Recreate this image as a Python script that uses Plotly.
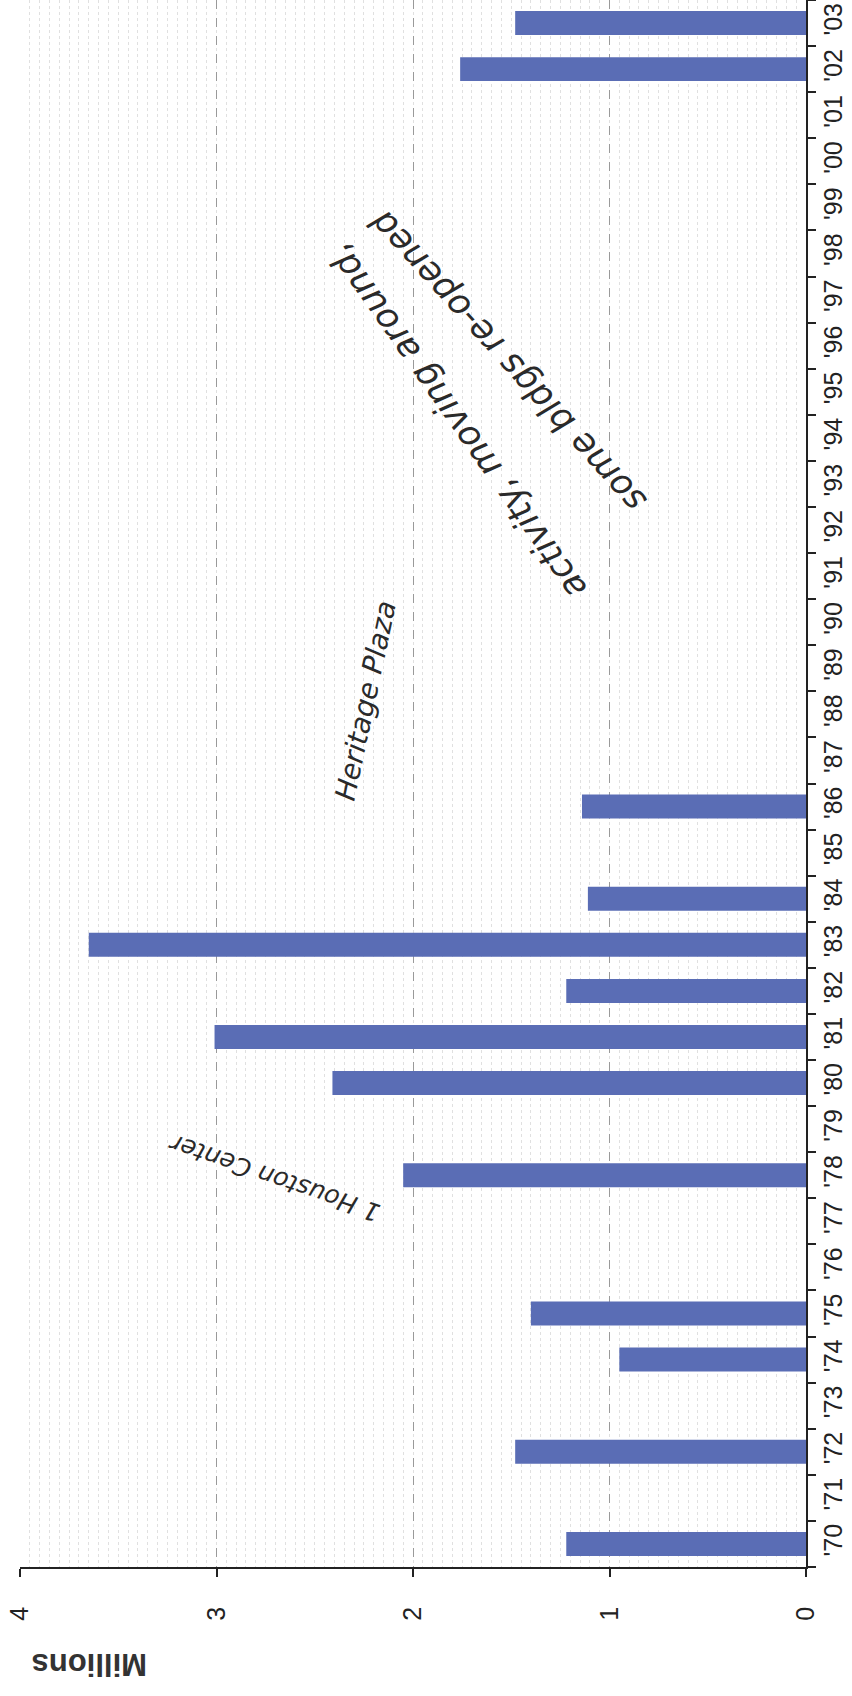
import plotly.graph_objects as go

# Years on the category axis ('70 .. '03)
years = ["'70", "'71", "'72", "'73", "'74", "'75", "'76", "'77", "'78", "'79",
         "'80", "'81", "'82", "'83", "'84", "'85", "'86", "'87", "'88", "'89",
         "'90", "'91", "'92", "'93", "'94", "'95", "'96", "'97", "'98", "'99",
         "'00", "'01", "'02", "'03"]

# Millions per year (None = no bar that year)
millions = [1.22, None, 1.48, None, 0.95, 1.40, None, None, 2.05, None,
            2.41, 3.01, 1.22, 3.65, 1.11, None, 1.14, None, None, None,
            None, None, None, None, None, None, None, None, None, None,
            None, None, 1.76, 1.48]

value_ticks = [0, 1, 2, 3, 4]

# Handwritten notes: text, value position, year-index position, angle, size
notes = [
    ("1 Houston Center", 2.71, 7.95, -161, 25),
    ("Heritage Plaza", 2.24, 18.3, -78, 28),
    ("activity, moving around,", 1.78, 24.35, -125, 35),
    ("some bldgs re-opened", 1.52, 25.65, -132, 35),
]

W, H = 852, 1696
ML, MR, MT, MB = 20, 46, 0, 129

fig = go.Figure()
fig.add_trace(go.Bar(
    x=millions, y=years, orientation="h",
    marker=dict(color="#5a6db5", line=dict(width=0)),
    width=0.52,
    hoverinfo="x+y",
))

tick_font = dict(family="Liberation Sans, Arial, sans-serif", size=25, color="#222222")

fig.update_layout(
    width=W, height=H,
    margin=dict(l=ML, r=MR, t=MT, b=MB, pad=0),
    paper_bgcolor="white", plot_bgcolor="white",
    showlegend=False,
    xaxis=dict(
        range=[4, 0], tickvals=value_ticks,
        ticktext=[str(v) for v in value_ticks],
        tickangle=-90, tickfont=tick_font, ticklabelstandoff=20,
        ticks="outside", ticklen=8, tickcolor="#222", tickwidth=1.5,
        showline=True, linecolor="#222", linewidth=1.5,
        showgrid=True, gridcolor="#9a9a9a", griddash="dash", gridwidth=1,
        zeroline=False,
        minor=dict(dtick=0.05, showgrid=True, gridcolor="#e0e0e0",
                   griddash="dot", gridwidth=1, ticks=""),
    ),
    yaxis=dict(
        type="category", categoryorder="array", categoryarray=years,
        side="right", tickangle=-90, tickfont=tick_font, ticklabelstandoff=4,
        ticks="outside", ticklen=8, tickcolor="#222", tickwidth=1.5,
        tickson="boundaries",
        showline=True, linecolor="#222", linewidth=1.5,
        showgrid=False, zeroline=False,
        range=[-0.5, len(years) - 0.5],
    ),
)

# Axis title, upside down below the value axis
fig.add_annotation(
    text="<b>Millions</b>", xref="paper", yref="paper",
    x=(90 - ML) / (W - ML - MR), y=-(1665 - (H - MB)) / (H - MT - MB),
    xanchor="center", yanchor="middle",
    showarrow=False, textangle=180,
    font=dict(family="Liberation Sans, Arial, sans-serif", size=31, color="#333333"),
)

for text, xv, yi, ang, size in notes:
    fig.add_annotation(
        text=text, x=xv, y=yi, xref="x", yref="y",
        xanchor="center", yanchor="middle",
        showarrow=False, textangle=ang,
        font=dict(family="DejaVu Sans, sans-serif", size=size, color="#2a2a2a",
                  style="italic"),
    )

fig.write_html("out.html")
